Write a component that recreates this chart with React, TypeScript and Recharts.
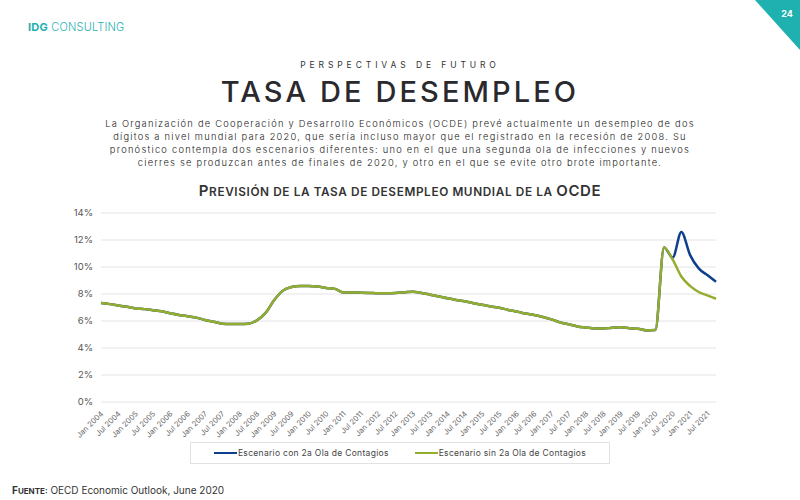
import React from "react";
import {
  LineChart,
  Line,
  XAxis,
  YAxis,
  CartesianGrid,
  Legend,
} from "recharts";

// Quarterly categories, Q1 2004 – Q4 2021
const quarters: string[] = [
  "Jan 2004", "Apr 2004", "Jul 2004", "Oct 2004",
  "Jan 2005", "Apr 2005", "Jul 2005", "Oct 2005",
  "Jan 2006", "Apr 2006", "Jul 2006", "Oct 2006",
  "Jan 2007", "Apr 2007", "Jul 2007", "Oct 2007",
  "Jan 2008", "Apr 2008", "Jul 2008", "Oct 2008",
  "Jan 2009", "Apr 2009", "Jul 2009", "Oct 2009",
  "Jan 2010", "Apr 2010", "Jul 2010", "Oct 2010",
  "Jan 2011", "Apr 2011", "Jul 2011", "Oct 2011",
  "Jan 2012", "Apr 2012", "Jul 2012", "Oct 2012",
  "Jan 2013", "Apr 2013", "Jul 2013", "Oct 2013",
  "Jan 2014", "Apr 2014", "Jul 2014", "Oct 2014",
  "Jan 2015", "Apr 2015", "Jul 2015", "Oct 2015",
  "Jan 2016", "Apr 2016", "Jul 2016", "Oct 2016",
  "Jan 2017", "Apr 2017", "Jul 2017", "Oct 2017",
  "Jan 2018", "Apr 2018", "Jul 2018", "Oct 2018",
  "Jan 2019", "Apr 2019", "Jul 2019", "Oct 2019",
  "Jan 2020", "Apr 2020", "Jul 2020", "Oct 2020",
  "Jan 2021", "Apr 2021", "Jul 2021", "Oct 2021",
];

// Observed unemployment rate (%), Q1 2004 – Q1 2020
const historico: number[] = [
  7.33, 7.25, 7.15, 7.05, 6.93, 6.88, 6.8, 6.72,
  6.58, 6.45, 6.35, 6.25, 6.08, 5.95, 5.8, 5.77,
  5.77, 5.8, 6.05, 6.6, 7.55, 8.25, 8.52, 8.6,
  8.6, 8.55, 8.45, 8.38, 8.12, 8.12, 8.1, 8.08,
  8.05, 8.05, 8.07, 8.12, 8.17, 8.08, 7.95, 7.82,
  7.68, 7.56, 7.46, 7.32, 7.2, 7.08, 6.98, 6.82,
  6.7, 6.55, 6.45, 6.3, 6.12, 5.9, 5.75, 5.6,
  5.52, 5.45, 5.44, 5.5, 5.53, 5.47, 5.42, 5.3,
  5.33,
];

// Projections (%), Q2 2020 – Q4 2021
const previsionConOla: number[] = [11.45, 10.7, 12.6, 10.9, 9.9, 9.4, 8.9];
const previsionSinOla: number[] = [11.45, 10.55, 9.3, 8.6, 8.15, 7.9, 7.65];

const yTicks: number[] = [0, 2, 4, 6, 8, 10, 12, 14];

const serieCon = [...historico, ...previsionConOla];
const serieSin = [...historico, ...previsionSinOla];

const data = quarters.map((q, i) => ({
  q,
  con: serieCon[i],
  sin: serieSin[i],
}));

const TEAL = "#1fb0b0";
const BLUE = "#0e3f8c";
const GREEN = "#93ad2e";
const FONT = "Inter, 'Open Sans', sans-serif";

const XTick = (props: any) => {
  const { x, y, payload } = props;
  return (
    <g transform={`translate(${x},${y})`}>
      <text
        x={0}
        y={0}
        dy={5}
        dx={-1}
        textAnchor="end"
        transform="rotate(-45)"
        fontSize={7.5}
        fill="#666"
        fontFamily={FONT}
      >
        {payload.value}
      </text>
    </g>
  );
};

const LegendBox = () => (
  <div
    style={{
      boxSizing: "border-box",
      height: 22,
      border: "1px solid #e2e2e2",
      display: "flex",
      alignItems: "center",
      justifyContent: "center",
      gap: 26,
      fontFamily: FONT,
      fontSize: 8.5,
      letterSpacing: 0.3,
      color: "#444",
    }}
  >
    {[
      { c: BLUE, t: "Escenario con 2a Ola de Contagios" },
      { c: GREEN, t: "Escenario sin 2a Ola de Contagios" },
    ].map((it) => (
      <div key={it.t} style={{ display: "flex", alignItems: "center" }}>
        <span
          style={{
            display: "inline-block",
            width: 23,
            height: 2.5,
            background: it.c,
            marginRight: 1,
          }}
        />
        <span>{it.t}</span>
      </div>
    ))}
  </div>
);

// Small-caps text: capitals at full size, other letters as smaller capitals
const SmallCaps = ({ text, big, small }: { text: string; big: number; small: number }) => (
  <>
    {text.split("").map((ch, i) => {
      const isCap = ch !== ch.toLowerCase();
      return (
        <span key={i} style={{ fontSize: isCap ? big : small }}>
          {ch.toUpperCase()}
        </span>
      );
    })}
  </>
);

export default function App() {
  return (
    <div
      style={{
        position: "absolute",
        left: 0,
        top: 0,
        width: 800,
        height: 500,
        background: "#fff",
        overflow: "hidden",
        fontFamily: FONT,
        color: "#2b2b2b",
      }}
    >
      {/* brand */}
      <div
        style={{
          position: "absolute",
          left: 28,
          top: 20,
          fontSize: 11,
          color: TEAL,
          letterSpacing: 0.2,
        }}
      >
        <b>IDG</b> <span style={{ fontWeight: 300 }}>CONSULTING</span>
      </div>
      {/* page corner */}
      <svg
        width={800}
        height={60}
        style={{ position: "absolute", left: 0, top: 0 }}
      >
        <polygon points="755,0 800,0 800,50" fill={TEAL} />
        <text
          x={787}
          y={17}
          fontSize={9}
          fontWeight={700}
          fill="#fff"
          textAnchor="middle"
          fontFamily={FONT}
        >
          24
        </text>
      </svg>

      <div
        style={{
          position: "absolute",
          left: 0,
          width: 800,
          top: 60,
          textAlign: "center",
          fontSize: 8.5,
          letterSpacing: 3.9,
          color: "#333",
        }}
      >
        PERSPECTIVAS DE FUTURO
      </div>
      <div
        style={{
          position: "absolute",
          left: 0,
          width: 800,
          top: 74,
          textAlign: "center",
          fontSize: 29,
          fontWeight: 500,
          letterSpacing: 3.1,
          color: "#2a2a2e",
        }}
      >
        TASA DE DESEMPLEO
      </div>
      <div
        style={{
          position: "absolute",
          left: 0,
          width: 800,
          top: 117,
          textAlign: "center",
          fontSize: 9.3,
          fontWeight: 300,
          lineHeight: "13px",
          letterSpacing: 1.25,
          color: "#222",
        }}
      >
        La Organización de Cooperación y Desarrollo Económicos (OCDE) prevé
        actualmente un desempleo de dos
        <br />
        dígitos a nivel mundial para 2020, que sería incluso mayor que el
        registrado en la recesión de 2008. Su
        <br />
        pronóstico contempla dos escenarios diferentes: uno en el que una
        segunda ola de infecciones y nuevos
        <br />
        cierres se produzcan antes de finales de 2020, y otro en el que se
        evite otro brote importante.
      </div>

      <div
        style={{
          position: "absolute",
          left: 0,
          width: 800,
          top: 180,
          textAlign: "center",
          fontWeight: 600,
          letterSpacing: 0.6,
          color: "#333",
          lineHeight: "20px",
        }}
      >
        <SmallCaps
          text="Previsión de la tasa de desempleo mundial de la OCDE"
          big={15}
          small={11.8}
        />
      </div>

      <div style={{ position: "absolute", left: 0, top: 200 }}>
        <LineChart
          width={800}
          height={264}
          data={data}
          margin={{ top: 13, right: 84, left: 0, bottom: 0 }}
        >
          <CartesianGrid vertical={false} stroke="#e4e4e4" strokeWidth={1} />
          <XAxis
            dataKey="q"
            interval={1}
            axisLine={false}
            tickLine={false}
            height={40}
            tick={<XTick />}
          />
          <YAxis
            width={101}
            domain={[0, 14]}
            ticks={yTicks}
            axisLine={false}
            tickLine={false}
            tickFormatter={(v: number) => `${v}%`}
            tick={{ fontSize: 9.5, fill: "#555", fontFamily: FONT }}
          />
          <Legend
            verticalAlign="bottom"
            content={<LegendBox />}
            wrapperStyle={{ left: 190, width: 420 }}
          />
          <Line
            type="monotone"
            dataKey="con"
            name="Escenario con 2a Ola de Contagios"
            stroke={BLUE}
            strokeWidth={2.5}
            dot={false}
            isAnimationActive={false}
          />
          <Line
            type="monotone"
            dataKey="sin"
            name="Escenario sin 2a Ola de Contagios"
            stroke={GREEN}
            strokeWidth={2.5}
            dot={false}
            isAnimationActive={false}
          />
        </LineChart>
      </div>

      <div
        style={{
          position: "absolute",
          left: 12,
          top: 484,
          fontSize: 10,
          color: "#333",
        }}
      >
        <span style={{ fontWeight: 700 }}>
          <SmallCaps text="Fuente:" big={10} small={8} />
        </span>{" "}
        OECD Economic Outlook, June 2020
      </div>
    </div>
  );
}
